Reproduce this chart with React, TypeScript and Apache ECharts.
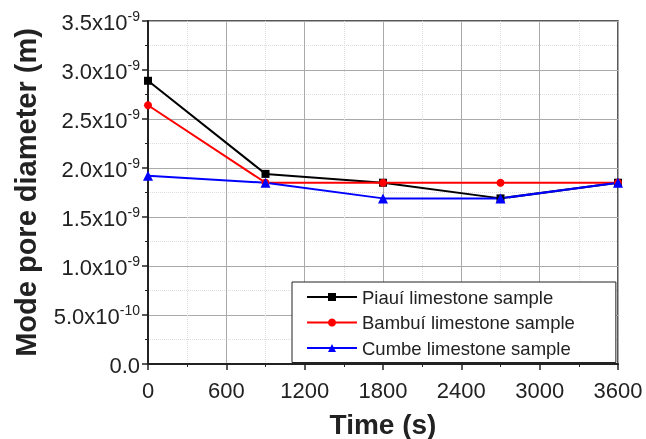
import React, { useEffect, useRef } from "react";
import * as echarts from "echarts";

// Time (s)
const timeS = [0, 900, 1800, 2700, 3600];
// Mode pore diameter, in units of 1e-9 m
const piaui = [2.89, 1.94, 1.85, 1.69, 1.85];
const bambui = [2.64, 1.85, 1.85, 1.85, 1.85];
const cumbe = [1.92, 1.85, 1.69, 1.69, 1.85];
const seriesNames = ["Piauí limestone sample", "Bambuí limestone sample", "Cumbe limestone sample"];

const FONT = "Liberation Sans, Arial, sans-serif";

function yLabel(v: number): string {
  if (Math.abs(v) < 1e-9) return "{a|0.0}";
  if (v < 1) return `{a|${(v * 10).toFixed(1)}x10}{s|-10}`;
  return `{a|${v.toFixed(1)}x10}{s|-9}`;
}

export default function App() {
  const ref = useRef<HTMLDivElement>(null);
  useEffect(() => {
    if (!ref.current) return;
    const chart = echarts.init(ref.current, undefined, { renderer: "svg" });
    const mk = (name: string, vals: number[], color: string, symbol: string, size: number) => ({
      name,
      type: "line",
      data: timeS.map((t, i) => [t, vals[i]]),
      symbol,
      symbolSize: size,
      itemStyle: { color },
      lineStyle: { color, width: 2 },
      clip: false,
    });
    chart.setOption({
      animation: false,
      textStyle: { fontFamily: FONT },
      grid: {
        left: 148,
        right: 28,
        top: 21,
        bottom: 75,
        show: true,
        borderColor: "#222",
        borderWidth: 1.5,
        containLabel: false,
        outerBoundsMode: "none",
      },
      legend: {
        orient: "vertical",
        left: 292,
        top: 282,
        itemWidth: 50,
        itemHeight: 10,
        itemGap: 6.5,
        padding: [5.5, 41, 5, 14],
        borderColor: "#222",
        borderWidth: 1,
        borderRadius: 0,
        backgroundColor: "#fff",
        textStyle: { fontSize: 18.5, color: "#222", fontFamily: FONT },
        data: seriesNames,
      },
      xAxis: {
        type: "value",
        min: 0,
        max: 3600,
        interval: 600,
        name: "Time (s)",
        nameLocation: "middle",
        nameGap: 46,
        nameTextStyle: { fontSize: 28, fontWeight: "bold", color: "#222", fontFamily: FONT },
        axisLine: { show: true, onZero: false, lineStyle: { color: "#222", width: 2 } },
        axisTick: { show: true, inside: false, length: 6, lineStyle: { color: "#222", width: 1.5 } },
        minorTick: { show: true, splitNumber: 2, length: 3, lineStyle: { color: "#222", width: 1 } },
        axisLabel: { fontSize: 22, color: "#222", margin: 15, fontFamily: FONT, formatter: (v: number) => String(v) },
        splitLine: { show: true, lineStyle: { color: "#aaa", width: 1 } },
        minorSplitLine: { show: true, lineStyle: { color: "#ddd", width: 1, type: "dotted" } },
      },
      yAxis: {
        type: "value",
        min: 0,
        max: 3.5,
        interval: 0.5,
        name: "Mode pore diameter (m)",
        nameLocation: "middle",
        nameGap: 108,
        nameTextStyle: { fontSize: 29, fontWeight: "bold", color: "#222", fontFamily: FONT },
        axisLine: { show: true, lineStyle: { color: "#222", width: 2 } },
        axisTick: { show: true, inside: false, length: 6, lineStyle: { color: "#222", width: 1.5 } },
        minorTick: { show: true, splitNumber: 2, length: 3, lineStyle: { color: "#222", width: 1 } },
        axisLabel: {
          margin: 8,
          formatter: yLabel,
          rich: {
            a: { fontSize: 22, color: "#222", fontFamily: FONT, verticalAlign: "bottom", lineHeight: 24 },
            s: { fontSize: 14, color: "#222", fontFamily: FONT, verticalAlign: "top", lineHeight: 14, padding: [0, 0, 10, 0] },
          },
        },
        splitLine: { show: true, lineStyle: { color: "#aaa", width: 1 } },
        minorSplitLine: { show: true, lineStyle: { color: "#ddd", width: 1, type: "dotted" } },
      },
      series: [
        mk(seriesNames[0], piaui, "#000000", "rect", 8),
        mk(seriesNames[1], bambui, "#ff0000", "circle", 8),
        mk(seriesNames[2], cumbe, "#0000ff", "triangle", 10),
      ],
    });
    return () => chart.dispose();
  }, []);
  return <div ref={ref} style={{ position: "fixed", left: 0, top: 0, width: 646, height: 439 }} />;
}
